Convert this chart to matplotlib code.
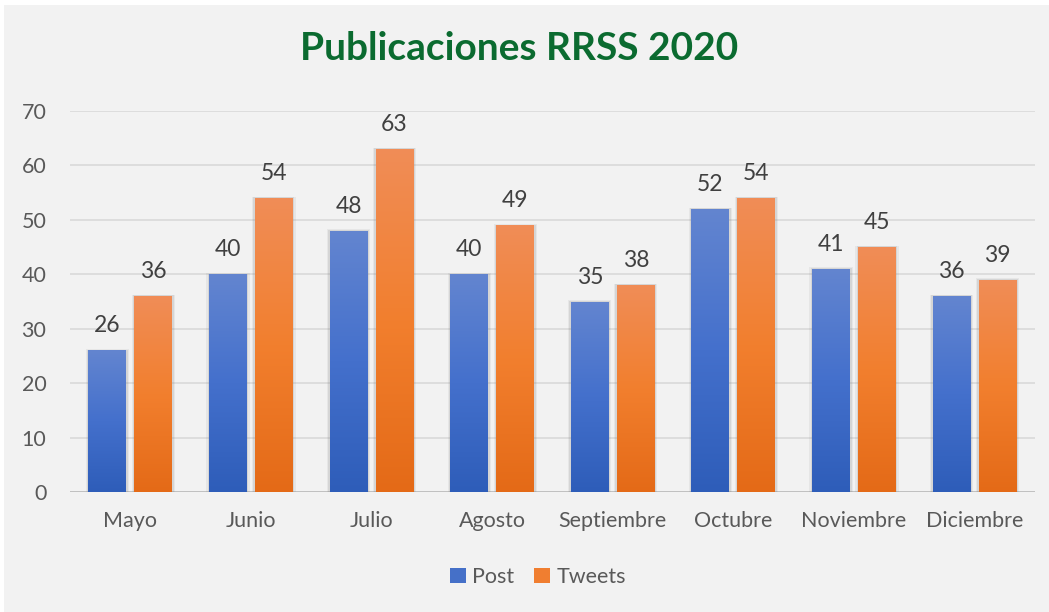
import matplotlib
matplotlib.use("Agg")
import matplotlib.pyplot as plt
import numpy as np
from matplotlib.patches import Rectangle
from matplotlib.colors import LinearSegmentedColormap

months = ["Mayo", "Junio", "Julio", "Agosto", "Septiembre", "Octubre", "Noviembre", "Diciembre"]
post = [26, 40, 48, 40, 35, 52, 41, 36]
tweets = [36, 54, 63, 49, 38, 54, 45, 39]
series_names = ["Post", "Tweets"]
yticks = [0, 10, 20, 30, 40, 50, 60, 70]

plt.rcParams['font.family'] = ['Lato', 'DejaVu Sans']

W, H = 1049, 612
fig = plt.figure(figsize=(W / 100, H / 100), dpi=100)
fig.patch.set_facecolor("white")
# light gray chart area
bg = Rectangle((4 / W, 0), 1 - 4 / W, 1 - 5 / H, transform=fig.transFigure,
               facecolor="#F2F2F2", edgecolor="none", zorder=-10)
fig.patches.append(bg)

ax = fig.add_axes([70 / W, 120 / H, 965 / W, 381 / H])
ax.set_zorder(1)
ax.set_facecolor("none")
ax.set_xlim(-0.5, len(months) - 0.5)
ax.set_ylim(0, 70)
for s in ax.spines.values():
    s.set_visible(False)
ax.set_yticks(yticks)
ax.yaxis.grid(True, color="#D9D9D9", linewidth=1.2)
ax.set_axisbelow(True)
ax.axhline(0, color="#BFBFBF", linewidth=1.3, zorder=1)
ax.tick_params(axis="both", length=0, labelsize=15.5, labelcolor="#595959")
ax.tick_params(axis="y", pad=17)
ax.tick_params(axis="x", pad=14)
ax.set_xticks(range(len(months)))
ax.set_xticklabels(months)

cmap_blue = LinearSegmentedColormap.from_list("b", ["#2E5DB9", "#4470CC", "#6385D0"])
cmap_orange = LinearSegmentedColormap.from_list("o", ["#E46A17", "#F27F2E", "#F08D57"])

bw = 0.315
gap = 0.066
grad = np.linspace(0, 1, 256).reshape(-1, 1)

def draw_bar(xc, val, cmap):
    x0 = xc - bw / 2
    # shadow
    for k, a in [(0.022, 0.10), (0.012, 0.16)]:
        ax.add_patch(Rectangle((x0 - k, 0), bw + 2 * k, val + k * 12, facecolor="#7F7F7F",
                               alpha=a, edgecolor="none", zorder=2))
    rect = Rectangle((x0, 0), bw, val, facecolor="none", edgecolor="none", zorder=3)
    ax.add_patch(rect)
    im = ax.imshow(grad, cmap=cmap, aspect="auto", extent=(x0, x0 + bw, 0, val),
                   origin="lower", zorder=3, interpolation="bilinear")
    im.set_clip_path(rect)
    ax.text(xc, val + 4.5, f"{val}", ha="center", va="center", fontsize=16.5, color="#404040", zorder=4)

for i in range(len(months)):
    draw_bar(i - (bw + gap) / 2, post[i], cmap_blue)
    draw_bar(i + (bw + gap) / 2, tweets[i], cmap_orange)

ax.set_xlim(-0.5, len(months) - 0.5)
ax.set_ylim(0, 70)

fig.text(519 / W, 1 - 48 / H, "Publicaciones RRSS 2020", ha="center", va="center",
         fontsize=28, fontweight="bold", color="#0B6B30")

handles = [Rectangle((0, 0), 1, 1, facecolor="#4570C8"), Rectangle((0, 0), 1, 1, facecolor="#F07E30")]
fig.legend(handles, series_names, loc="center", bbox_to_anchor=(538 / W, 1 - 577 / H), ncol=2,
           frameon=False, fontsize=15.5, handlelength=0.75, handleheight=0.75, handletextpad=0.3,
           columnspacing=0.9, labelcolor="#595959")

fig.savefig("out.png", dpi=100, facecolor=fig.get_facecolor())
